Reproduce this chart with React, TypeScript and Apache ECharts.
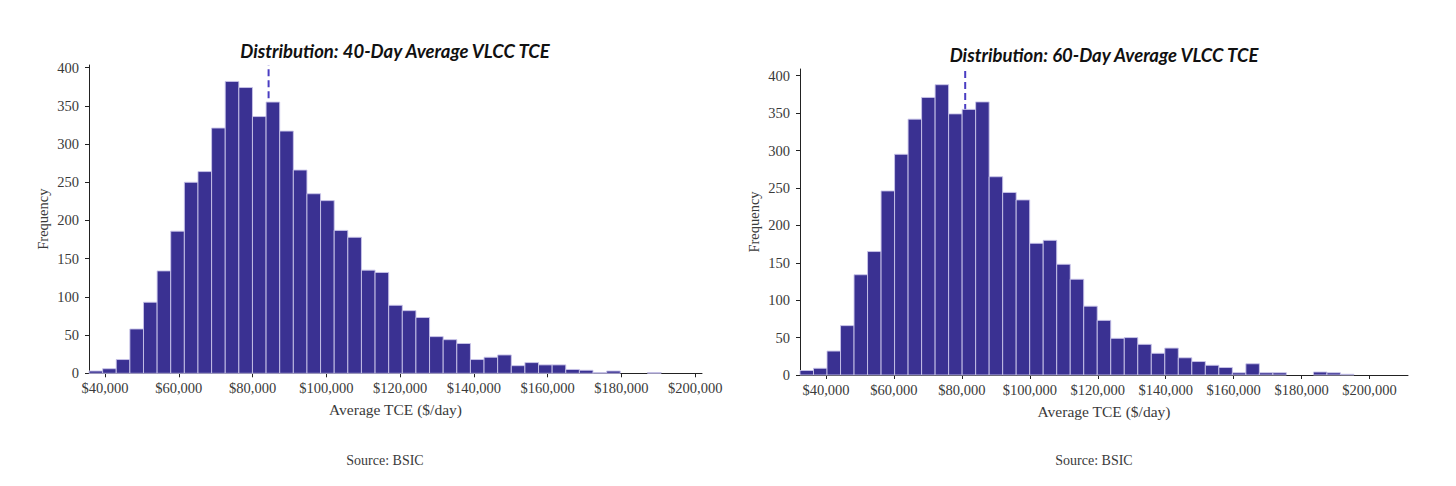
import React, { useEffect, useRef } from "react";
import * as echarts from "echarts";

// ---- Data ----
const leftTitle = "Distribution: 40-Day Average VLCC TCE";
const rightTitle = "Distribution: 60-Day Average VLCC TCE";

const leftBinStart = 35656;
const leftBinWidth = 3693;
const leftCounts = [
  3, 6, 18, 58, 93, 134, 186, 250, 264, 321, 382, 374, 336, 355, 317, 266, 235, 226, 187, 178,
  135, 132, 89, 82, 73, 48, 44, 39, 18, 21, 24, 10, 14, 11, 11, 5, 4, 1, 3, 0,
  0, 1, 0, 0, 0,
];
const leftMean = 84344;
const leftXMax = 201841;
const leftYMax = 403.5;

const rightBinStart = 32353;
const rightBinWidth = 3977;
const rightCounts = [
  6, 9, 32, 66, 134, 165, 246, 295, 342, 371, 388, 349, 355, 365, 265, 244, 234, 176, 180, 148,
  128, 92, 73, 49, 50, 41, 29, 36, 23, 18, 13, 10, 3, 15, 3, 3, 0, 0, 4, 3,
  1, 0, 0, 0, 0,
];
const rightMean = 80980;
const rightXMax = 211318;
const rightYMax = 409;

const xTicks = [40000, 60000, 80000, 100000, 120000, 140000, 160000, 180000, 200000];
const yTicks = [0, 50, 100, 150, 200, 250, 300, 350, 400];

const xName = "Average TCE ($/day)";
const yName = "Frequency";
const sourceText = "Source: BSIC";

const BAR = "#3a3192";
const EDGE = "#c9c5ea";
const MEAN = "#4a3dc2";
const SERIF = "'Liberation Serif', 'DejaVu Serif', serif";
const TITLE_FONT = "Lato, 'Open Sans', sans-serif";
const TEXT = "#3a3a3a";

function bins(start: number, width: number, counts: number[]) {
  return counts.map((c, i) => [start + i * width, start + (i + 1) * width, c]);
}

function fmt(v: number) {
  return "$" + Math.round(v).toString().replace(/\B(?=(\d{3})+(?!\d))/g, ",");
}

export default function App() {
  const ref = useRef<HTMLDivElement>(null);
  useEffect(() => {
    if (!ref.current) return;
    const chart = echarts.init(ref.current, null, { renderer: "svg" });

    const grids = [
      { left: 89, top: 65, width: 613, height: 308.3 },
      { left: 800, top: 69, width: 608, height: 306 },
    ];
    const xRanges = [
      [leftBinStart, leftXMax],
      [rightBinStart, rightXMax],
    ];
    const yMaxes = [leftYMax, rightYMax];

    const xAxes = [0, 1].map((i) => ({
      type: "value",
      gridIndex: i,
      min: xRanges[i][0],
      max: xRanges[i][1],
      name: xName,
      nameLocation: "middle",
      nameGap: 28,
      nameTextStyle: { fontFamily: SERIF, fontSize: 15.5, color: TEXT },
      splitLine: { show: false },
      axisLine: { show: true, lineStyle: { color: "#222", width: 1 } },
      axisTick: { show: true, length: 4, lineStyle: { color: "#222" }, customValues: xTicks },
      axisLabel: {
        customValues: xTicks,
        formatter: (v: number) => fmt(v),
        fontFamily: SERIF,
        fontSize: 14.5,
        color: TEXT,
        margin: 7,
      },
    }));

    const yAxes = [0, 1].map((i) => ({
      type: "value",
      gridIndex: i,
      min: 0,
      max: yMaxes[i],
      name: yName,
      nameLocation: "middle",
      nameGap: 39,
      nameTextStyle: { fontFamily: SERIF, fontSize: 14.5, color: TEXT },
      splitLine: { show: false },
      axisLine: { show: true, lineStyle: { color: "#222", width: 1 } },
      axisTick: { show: true, length: 4, lineStyle: { color: "#222" }, customValues: yTicks },
      axisLabel: {
        customValues: yTicks,
        fontFamily: SERIF,
        fontSize: 14.5,
        color: TEXT,
        margin: 10,
      },
    }));

    const histData = [
      bins(leftBinStart, leftBinWidth, leftCounts),
      bins(rightBinStart, rightBinWidth, rightCounts),
    ];
    const means = [leftMean, rightMean];

    const series: any[] = [];
    [0, 1].forEach((i) => {
      series.push({
        type: "line",
        xAxisIndex: i,
        yAxisIndex: i,
        z: 1,
        symbol: "none",
        silent: true,
        data: [
          [means[i], 0],
          [means[i], yMaxes[i]],
        ],
        lineStyle: { color: MEAN, width: 2, type: [7, 4] },
      });
      series.push({
        type: "custom",
        xAxisIndex: i,
        yAxisIndex: i,
        z: 2,
        data: histData[i],
        encode: { x: [0, 1], y: 2 },
        renderItem: (params: any, api: any) => {
          const x0 = api.value(0);
          const x1 = api.value(1);
          const c = api.value(2);
          if (!c) return null;
          const p0 = api.coord([x0, c]);
          const p1 = api.coord([x1, 0]);
          return {
            type: "rect",
            shape: { x: p0[0], y: p0[1], width: p1[0] - p0[0], height: p1[1] - p0[1] },
            style: { fill: BAR, stroke: EDGE, lineWidth: 0.9 },
          };
        },
      });
    });

    const titleStyle = {
      fontFamily: TITLE_FONT,
      fontStyle: "italic",
      fontWeight: "bold",
      fontSize: 18.5,
      fill: "#111",
      textAlign: "center",
      textVerticalAlign: "middle",
      align: "center",
      verticalAlign: "middle",
    };

    chart.setOption({
      animation: false,
      backgroundColor: "#ffffff",
      grid: grids,
      xAxis: xAxes,
      yAxis: yAxes,
      series,
      graphic: [
        { type: "text", x: 395, y: 51, style: { ...titleStyle, text: leftTitle } },
        { type: "text", x: 1104, y: 55, style: { ...titleStyle, text: rightTitle } },
        {
          type: "text",
          x: 385,
          y: 460,
          style: { text: sourceText, fontFamily: SERIF, fontSize: 14, fill: TEXT, align: "center", verticalAlign: "middle" },
        },
        {
          type: "text",
          x: 1094,
          y: 460,
          style: { text: sourceText, fontFamily: SERIF, fontSize: 14, fill: TEXT, align: "center", verticalAlign: "middle" },
        },
      ],
    });
    return () => chart.dispose();
  }, []);
  return (
    <div
      ref={ref}
      style={{ position: "fixed", left: 0, top: 0, width: 1456, height: 486, background: "#fff" }}
    />
  );
}
